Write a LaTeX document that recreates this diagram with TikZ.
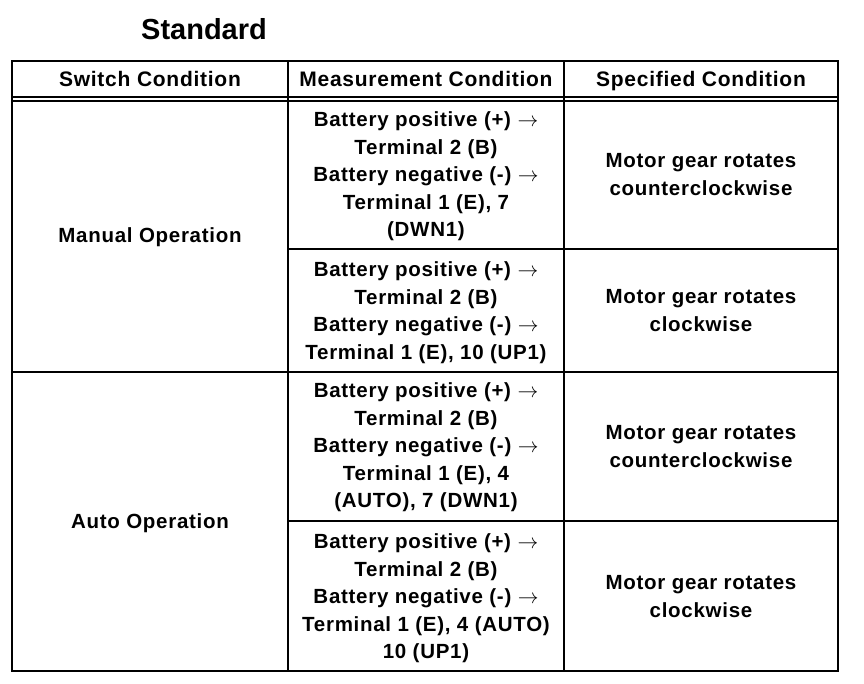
\documentclass[tikz,border=0pt]{standalone}
\usepackage{fontspec}
\setmainfont{Liberation Sans}[LetterSpace=3.5]
\newfontfamily\titlefont{Liberation Sans}
\begin{document}
\begin{tikzpicture}[x=1pt,y=-1pt,
  cell/.style={align=center,inner sep=0pt,text depth=5pt,font=\bfseries\fontsize{20.5}{27.5}\selectfont},
  head/.style={cell,font=\bfseries\fontsize{21}{27.5}\selectfont},
  rule/.style={line width=1.6pt}]
\useasboundingbox[fill=white] (0,0) rectangle (864,684);
\node[font=\titlefont\bfseries\fontsize{29}{32}\selectfont,inner sep=0pt] (title) at (204,29) {Standard};
% table lines
\draw[rule] (12,61) rectangle (838,671);
\draw[rule] (12,97) -- (838,97);
\draw[rule] (12,101) -- (838,101);
\draw[rule] (288,61) -- (288,671);
\draw[rule] (564,61) -- (564,671);
\draw[rule] (288,249) -- (838,249);
\draw[rule] (12,372) -- (838,372);
\draw[rule] (288,521) -- (838,521);
% header
\node[head] (h1) at (150,81) {Switch Condition};
\node[head] (h2) at (426,81) {Measurement Condition};
\node[head] (h3) at (701,81) {Specified Condition};
% left
\node[cell] (manual) at (150,238) {Manual Operation};
\node[cell] (auto) at (150,524) {Auto Operation};
% middle
\node[cell] (m1) at (426,177) {Battery positive (+) $\rightarrow$\\Terminal 2 (B)\\Battery negative (-) $\rightarrow$\\Terminal 1 (E), 7\\(DWN1)};
\node[cell] (m2) at (426,313) {Battery positive (+) $\rightarrow$\\Terminal 2 (B)\\Battery negative (-) $\rightarrow$\\Terminal 1 (E), 10 (UP1)};
\node[cell] (m3) at (426,448) {Battery positive (+) $\rightarrow$\\Terminal 2 (B)\\Battery negative (-) $\rightarrow$\\Terminal 1 (E), 4\\(AUTO), 7 (DWN1)};
\node[cell] (m4) at (426,599) {Battery positive (+) $\rightarrow$\\Terminal 2 (B)\\Battery negative (-) $\rightarrow$\\Terminal 1 (E), 4 (AUTO)\\10 (UP1)};
% right
\node[cell] (s1) at (701,177) {Motor gear rotates\\counterclockwise};
\node[cell] (s2) at (701,313) {Motor gear rotates\\clockwise};
\node[cell] (s3) at (701,449) {Motor gear rotates\\counterclockwise};
\node[cell] (s4) at (701,599) {Motor gear rotates\\clockwise};
\end{tikzpicture}
\end{document}
